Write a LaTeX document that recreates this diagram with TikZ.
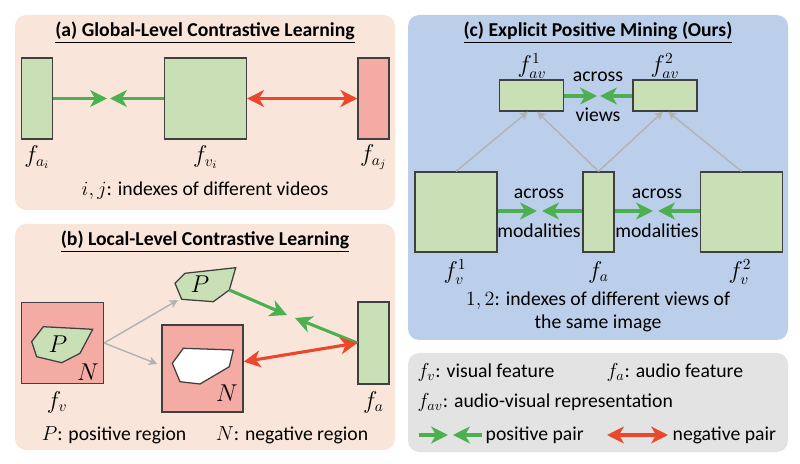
\documentclass[tikz,border=0pt]{standalone}
\usepackage{amsmath}
\usepackage{fontspec}
\setmainfont{Carlito}
\usetikzlibrary{arrows.meta,positioning,calc}
\definecolor{peach}{HTML}{F9E5D9}
\definecolor{paleblue}{HTML}{BCCFEA}
\definecolor{legendgray}{HTML}{E3E3E3}
\definecolor{featgreen}{HTML}{C9E0B6}
\definecolor{featred}{HTML}{F3ABA3}
\definecolor{posgreen}{HTML}{4CAF50}
\definecolor{negred}{HTML}{E9482D}
\tikzset{
  panel/.style={rounded corners=8pt},
  feat/.style={draw=black!75, line width=0.9pt, fill=featgreen, inner sep=0pt},
  negfeat/.style={feat, fill=featred},
  abox/.style={feat, minimum width=7.75mm, minimum height=20.25mm},
  vbox/.style={feat, minimum width=20.5mm, minimum height=20.25mm},
  avbox/.style={feat, minimum width=16mm, minimum height=7.75mm},
  posarrow/.style={-{Stealth[length=12pt,width=12pt,inset=3.5pt]}, draw=posgreen, line width=2.2pt},
  negarrow/.style={{Stealth[length=12pt,width=12pt,inset=3.5pt]}-{Stealth[length=12pt,width=12pt,inset=3.5pt]}, draw=negred, line width=2.2pt},
  linkarrow/.style={-{Stealth[length=6pt,width=6pt,inset=1.5pt]}, draw=black!30, line width=1pt}
}

\begin{document}
\begin{tikzpicture}[x=0.25mm, y=-0.25mm,
  title/.style={font=\bfseries\fontsize{14}{16}\selectfont, inner sep=1pt},
  txt/.style={font=\fontsize{14}{16}\selectfont, inner sep=1pt, align=center},
  lbl/.style={font=\fontsize{14}{16}\selectfont, inner sep=1pt},
  mlbl/.style={font=\fontsize{16}{18}\selectfont, inner sep=1pt}
]
\useasboundingbox (0,0) rectangle (800,464);
% panels
\fill[panel, peach] (15,15) rectangle (395,210);
\fill[panel, peach] (15,224) rectangle (395,450);
\fill[panel, paleblue] (408,15) rectangle (788,340);
\fill[panel, legendgray] (408,353) rectangle (788,452);
% (a) global level
\node[title] (ta) at (205,33) {\underline{(a) Global-Level Contrastive Learning}};
\node[abox] (fai) at (37,98.5) {};
\node[vbox] (fvi) at (205.5,98.5) {};
\node[abox, fill=featred] (faj) at (373.5,98.5) {};
\coordinate (mal) at (107,98.5);
\coordinate (mar) at (110,98.5);
\draw[posarrow] (fai.east) -- (mal);
\draw[posarrow] (fvi.west) -- (mar);
\draw[negarrow] (fvi.east) -- (faj.west);
\node[mlbl] (lfai) at (37,157) {$f_{a_i}$};
\node[mlbl] (lfvi) at (205.5,157) {$f_{v_i}$};
\node[mlbl] (lfaj) at (373.5,157) {$f_{a_j}$};
\node[txt] (ija) at (205,191) {$i,j$: indexes of different videos};
% (b) local level
\node[title] (tb) at (205,242) {\underline{(b) Local-Level Contrastive Learning}};
\node[vbox, fill=featred] (fvb) at (62.5,343) {};
\node[negfeat, minimum width=20.25mm, minimum height=21.75mm] (negb) at (202.5,368.5) {};
\node[abox, minimum height=20.5mm] (fab) at (373.5,343) {};
\draw[feat] (31.7,341.7) -- (43.3,326.7) -- (92.7,329.3) -- (80,353.3) -- (61.7,362.7) -- (36.7,356.7) -- cycle;
\coordinate (ptl) at (178,300);
\coordinate (ptr) at (229.3,290);
\draw[feat] (175,283.3) -- (185,273.3) -- (235.7,267.7) -- (ptr) -- (213.3,301.7) -- (181.7,299.3) -- cycle;
\draw[feat, fill=white] (172.3,363.3) -- (183.3,348.3) -- (233.3,350) -- (229.3,366.7) -- (200,384) -- (180,381.7) -- cycle;
\node[mlbl] (pl) at (58,344) {$P$};
\node[mlbl] (nl) at (88,372) {$N$};
\node[mlbl] (pt) at (200,284) {$P$};
\node[mlbl] (nb) at (227,393) {$N$};
\coordinate (nbin) at (157.3,364);
\draw[linkarrow] (fvb.east) -- (ptl);
\draw[linkarrow] (fvb.east) -- (nbin);
\coordinate (mbl) at (287,315);
\coordinate (mbr) at (295,318);
\draw[posarrow] (ptr) -- (mbl);
\draw[posarrow] (fab.west) -- (mbr);
\draw[negarrow] (fab.west) -- (negb.east |- 0,361.7);
\node[mlbl] (lfvb) at (57,402) {$f_v$};
\node[mlbl] (lfab) at (373.5,402) {$f_a$};
\node[txt] (pn1) at (114,435) {$P$: positive region};
\node[txt] (pn2) at (292,435) {$N$: negative region};
% (c) explicit positive mining
\node[title] (tc) at (598,33) {\underline{(c) Explicit Positive Mining (Ours)}};
\node[avbox] (fav1) at (531.5,95.5) {};
\node[avbox] (fav2) at (665,95.5) {};
\node[vbox, minimum height=20mm] (fv1) at (456,212) {};
\node[abox, minimum height=20mm] (fac) at (598.5,212) {};
\node[vbox, minimum height=20mm] (fv2) at (741.5,212) {};
\draw[linkarrow] (fv1.north) -- ([xshift=-0.9mm]fav1.south);
\draw[linkarrow] (fac.north) -- ([xshift=1.4mm]fav1.south);
\draw[linkarrow] (fac.north) -- ([xshift=-0.5mm]fav2.south);
\draw[linkarrow] (fv2.north) -- ([xshift=0.75mm]fav2.south);
\coordinate (mvl) at (597,96);
\coordinate (mvr) at (600,96);
\draw[posarrow] (fav1.east |- mvl) -- (mvl);
\draw[posarrow] (fav2.west |- mvr) -- (mvr);
\coordinate (m1l) at (537,211);
\coordinate (m1r) at (542,211);
\coordinate (m2l) at (653,211);
\coordinate (m2r) at (658,211);
\draw[posarrow] (fv1.east |- m1l) -- (m1l);
\draw[posarrow] (fac.west |- m1r) -- (m1r);
\draw[posarrow] (fac.east |- m2l) -- (m2l);
\draw[posarrow] (fv2.west |- m2r) -- (m2r);
\node[txt] (acv) at (598,77) {across};
\node[txt] (vw) at (598,115) {views};
\node[txt] (ac1) at (539,194) {across};
\node[txt] (md1) at (539,231) {modalities};
\node[txt] (ac2) at (657,194) {across};
\node[txt] (md2) at (657,231) {modalities};
\node[mlbl] (lfav1) at (532,66) {$f_{av}^1$};
\node[mlbl] (lfav2) at (665,66) {$f_{av}^2$};
\node[mlbl] (lfv1) at (455,272) {$f_v^1$};
\node[mlbl] (lfac) at (598.5,272) {$f_a$};
\node[mlbl] (lfv2) at (740,272) {$f_v^2$};
\node[txt] (idx) at (598,312) {$1,2$: indexes of different views of\\the same image};
% legend
\node[lbl, anchor=west] (lgv) at (416,372) {$f_v$: visual feature};
\node[lbl, anchor=west] (lga) at (605,372) {$f_a$: audio feature};
\node[lbl, anchor=west] (lgav) at (416,402) {$f_{av}$: audio-visual representation};
\coordinate (lp1) at (419,435);
\coordinate (lp2) at (448,435);
\coordinate (lp3) at (482,435);
\coordinate (lp4) at (453,435);
\draw[posarrow] (lp1) -- (lp2);
\draw[posarrow] (lp3) -- (lp4);
\node[lbl, anchor=west] (lgpos) at (484,435) {positive pair};
\coordinate (ln1) at (607,435);
\coordinate (ln2) at (668,435);
\draw[negarrow] (ln1) -- (ln2);
\node[lbl, anchor=west] (lgneg) at (671,435) {negative pair};
\end{tikzpicture}
\end{document}
